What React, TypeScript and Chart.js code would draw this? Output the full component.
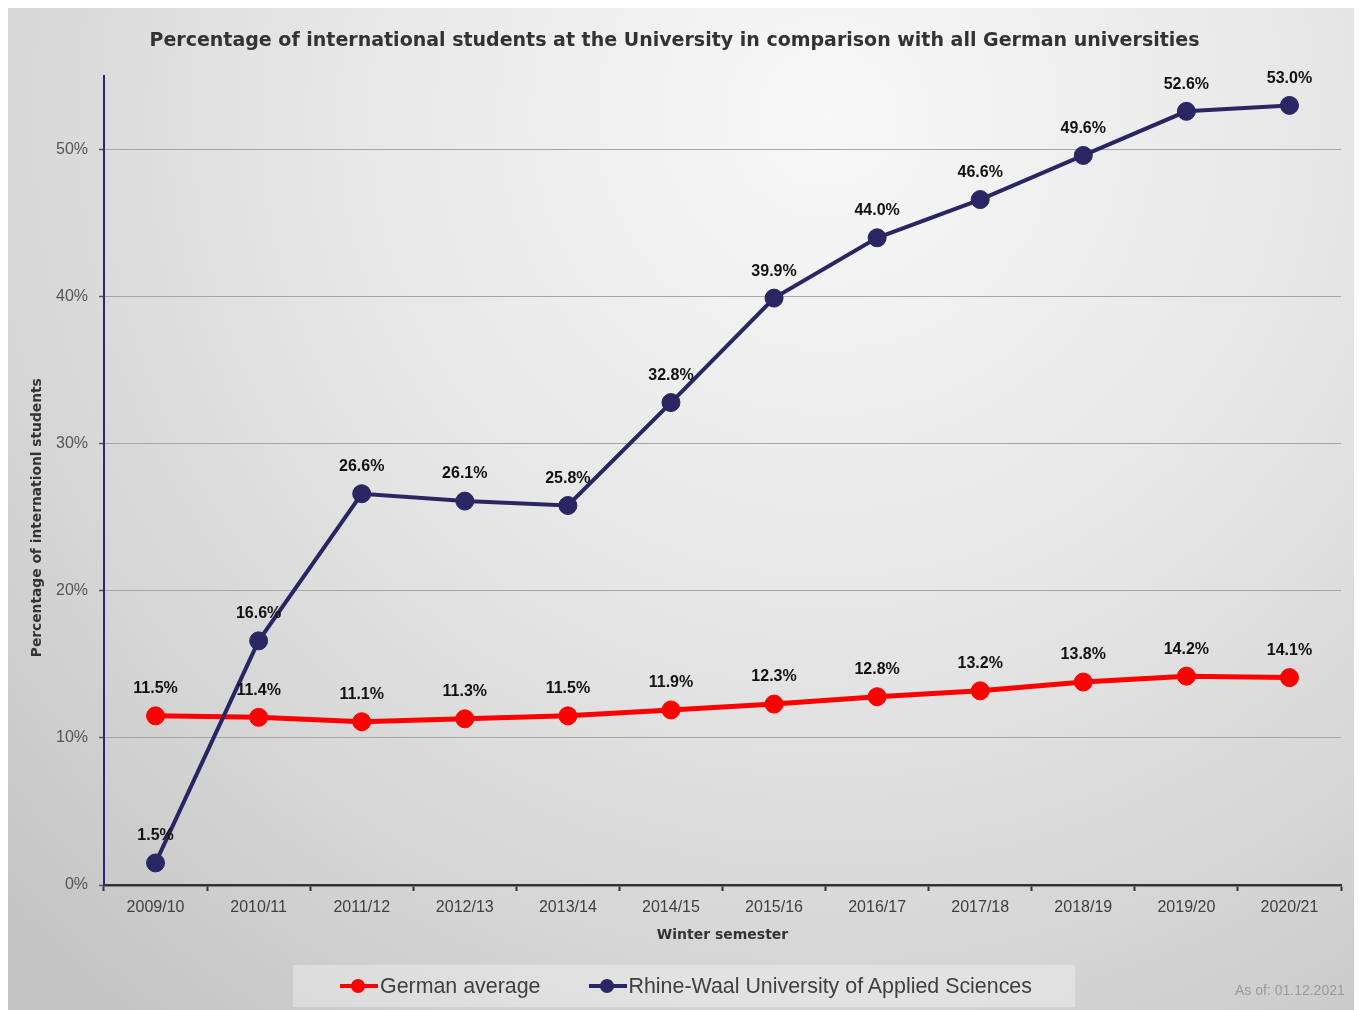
import React, { useEffect, useRef } from "react";
import { Chart, registerables } from "chart.js";

Chart.register(...registerables);

const categories = [
  "2009/10", "2010/11", "2011/12", "2012/13", "2013/14", "2014/15",
  "2015/16", "2016/17", "2017/18", "2018/19", "2019/20", "2020/21",
];
const germanAverage = [11.5, 11.4, 11.1, 11.3, 11.5, 11.9, 12.3, 12.8, 13.2, 13.8, 14.2, 14.1];
const rhineWaal = [1.5, 16.6, 26.6, 26.1, 25.8, 32.8, 39.9, 44.0, 46.6, 49.6, 52.6, 53.0];
const seriesNames = ["German average", "Rhine-Waal University of Applied Sciences"];
const seriesColors = ["#ff0000", "#2a2563"];
const chartTitle =
  "Percentage of international students at the University in comparison with all German universities";
const xTitle = "Winter semester";
const yTitle = "Percentage of internationl students";
const asOf = "As of: 01.12.2021";

const backgroundPlugin = {
  id: "bgGradient",
  beforeDraw(chart: any) {
    const { ctx, width, height } = chart;
    ctx.save();
    const g = ctx.createRadialGradient(820, 110, 0, 820, 110, 1150);
    g.addColorStop(0, "#f8f8f8");
    g.addColorStop(0.45, "#e6e6e6");
    g.addColorStop(0.75, "#d5d5d5");
    g.addColorStop(1, "#c4c4c4");
    ctx.fillStyle = g;
    ctx.fillRect(0, 0, width, height);
    ctx.restore();
  },
};

const labelPlugin = {
  id: "valueLabels",
  afterDatasetsDraw(chart: any) {
    const { ctx } = chart;
    ctx.save();
    ctx.font = "bold 16px 'Liberation Sans', Arial, sans-serif";
    ctx.fillStyle = "#111111";
    ctx.textAlign = "center";
    ctx.textBaseline = "middle";
    chart.data.datasets.forEach((ds: any, i: number) => {
      const meta = chart.getDatasetMeta(i);
      meta.data.forEach((pt: any, j: number) => {
        const v = ds.data[j] as number;
        ctx.fillText(v.toFixed(1) + "%", pt.x, pt.y - 27);
      });
    });
    ctx.restore();
  },
};

const yTitlePlugin = {
  id: "yAxisTitle",
  afterDraw(chart: any) {
    const { ctx, chartArea } = chart;
    ctx.save();
    ctx.font = "bold 13.8px 'DejaVu Sans', sans-serif";
    ctx.fillStyle = "#333333";
    ctx.textAlign = "center";
    ctx.textBaseline = "middle";
    ctx.translate(29, chartArea.top + (chartArea.bottom - chartArea.top) * 0.546);
    ctx.rotate(-Math.PI / 2);
    ctx.fillText(yTitle, 0, 0);
    ctx.restore();
  },
};

function LegendMarker({ color }: { color: string }) {
  return (
    <span style={{ position: "relative", display: "inline-block", width: 38, height: 14 }}>
      <span
        style={{
          position: "absolute", left: 0, top: 5, width: 38, height: 4, background: color,
        }}
      />
      <span
        style={{
          position: "absolute", left: 11, top: 0, width: 14, height: 14, borderRadius: 7, background: color,
        }}
      />
    </span>
  );
}

export default function App() {
  const ref = useRef<HTMLCanvasElement | null>(null);

  useEffect(() => {
    if (!ref.current) return;
    const chart = new Chart(ref.current, {
      type: "line",
      data: {
        labels: categories,
        datasets: [
          {
            label: seriesNames[0],
            data: germanAverage,
            borderColor: seriesColors[0],
            backgroundColor: seriesColors[0],
            pointBackgroundColor: seriesColors[0],
            pointBorderColor: seriesColors[0],
            borderWidth: 5,
            pointRadius: 9,
            pointBorderWidth: 1,
            tension: 0,
            order: 1,
          },
          {
            label: seriesNames[1],
            data: rhineWaal,
            borderColor: seriesColors[1],
            backgroundColor: seriesColors[1],
            pointBackgroundColor: seriesColors[1],
            pointBorderColor: seriesColors[1],
            borderWidth: 4,
            pointRadius: 9,
            pointBorderWidth: 1,
            tension: 0,
            order: 0,
          },
        ],
      },
      options: {
        responsive: false,
        animation: false,
        layout: { padding: { top: 0, left: 0, right: 21, bottom: 55 } },
        plugins: {
          legend: { display: false },
          tooltip: { enabled: false },
          title: {
            display: true,
            text: chartTitle,
            color: "#333333",
            font: { family: "'DejaVu Sans', sans-serif", size: 19, weight: "bold" },
            padding: { top: 22, bottom: 23.2 },
          },
        },
        scales: {
          x: {
            type: "category",
            offset: true,
            grid: {
              offset: true,
              drawOnChartArea: false,
              tickLength: 6,
              tickColor: "#333333",
              tickWidth: 2,
              color: "#333333",
            },
            border: { color: "#333333", width: 2.5 },
            ticks: {
              color: "#404040",
              font: { family: "'Liberation Sans', Arial, sans-serif", size: 16 },
              padding: 7,
              maxRotation: 0,
              autoSkip: false,
            },
            title: {
              display: true,
              text: xTitle,
              color: "#333333",
              font: { family: "'DejaVu Sans', sans-serif", size: 14, weight: "bold" },
              padding: { top: 0, bottom: 11 },
            },
            afterFit: (s: any) => {
              s.height = 70;
            },
          },
          y: {
            min: 0,
            max: 55,
            ticks: {
              stepSize: 10,
              color: "#555555",
              font: { family: "'Liberation Sans', Arial, sans-serif", size: 16 },
              padding: 11,
              callback: (v: any) => v + "%",
            },
            afterBuildTicks: (s: any) => {
              s.ticks = s.ticks.filter((t: any) => t.value <= 50);
            },
            grid: {
              color: "#a6a6a6",
              lineWidth: 1,
              tickLength: 5,
              tickColor: "#555555",
              tickWidth: 1.5,
            },
            border: { color: "#2b2870", width: 2 },
            title: { display: false },
            afterFit: (s: any) => {
              s.width = 96;
            },
          },
        },
      },
      plugins: [backgroundPlugin, labelPlugin, yTitlePlugin],
    } as any);
    return () => chart.destroy();
  }, []);

  return (
    <div style={{ position: "relative", width: 1354, height: 1002 }}>
      <canvas ref={ref} width={1354} height={1002} style={{ display: "block", width: 1354, height: 1002 }} />
      <div
        style={{
          position: "absolute", left: 285, top: 957, width: 782, height: 42,
          background: "rgba(255,255,255,0.32)", display: "flex", alignItems: "center",
          paddingLeft: 47, boxSizing: "border-box", whiteSpace: "nowrap",
          fontFamily: "'Liberation Sans', Arial, sans-serif", fontSize: 21.4, color: "#404040",
        }}
      >
        <LegendMarker color={seriesColors[0]} />
        <span style={{ marginLeft: 2, marginRight: 48 }}>{seriesNames[0]}</span>
        <LegendMarker color={seriesColors[1]} />
        <span style={{ marginLeft: 2 }}>{seriesNames[1]}</span>
      </div>
      <div
        style={{
          position: "absolute", left: 1227, top: 974, lineHeight: "16px",
          fontFamily: "'Liberation Sans', Arial, sans-serif", fontSize: 14, color: "#9a9a9a",
          whiteSpace: "nowrap",
        }}
      >
        {asOf}
      </div>
    </div>
  );
}
